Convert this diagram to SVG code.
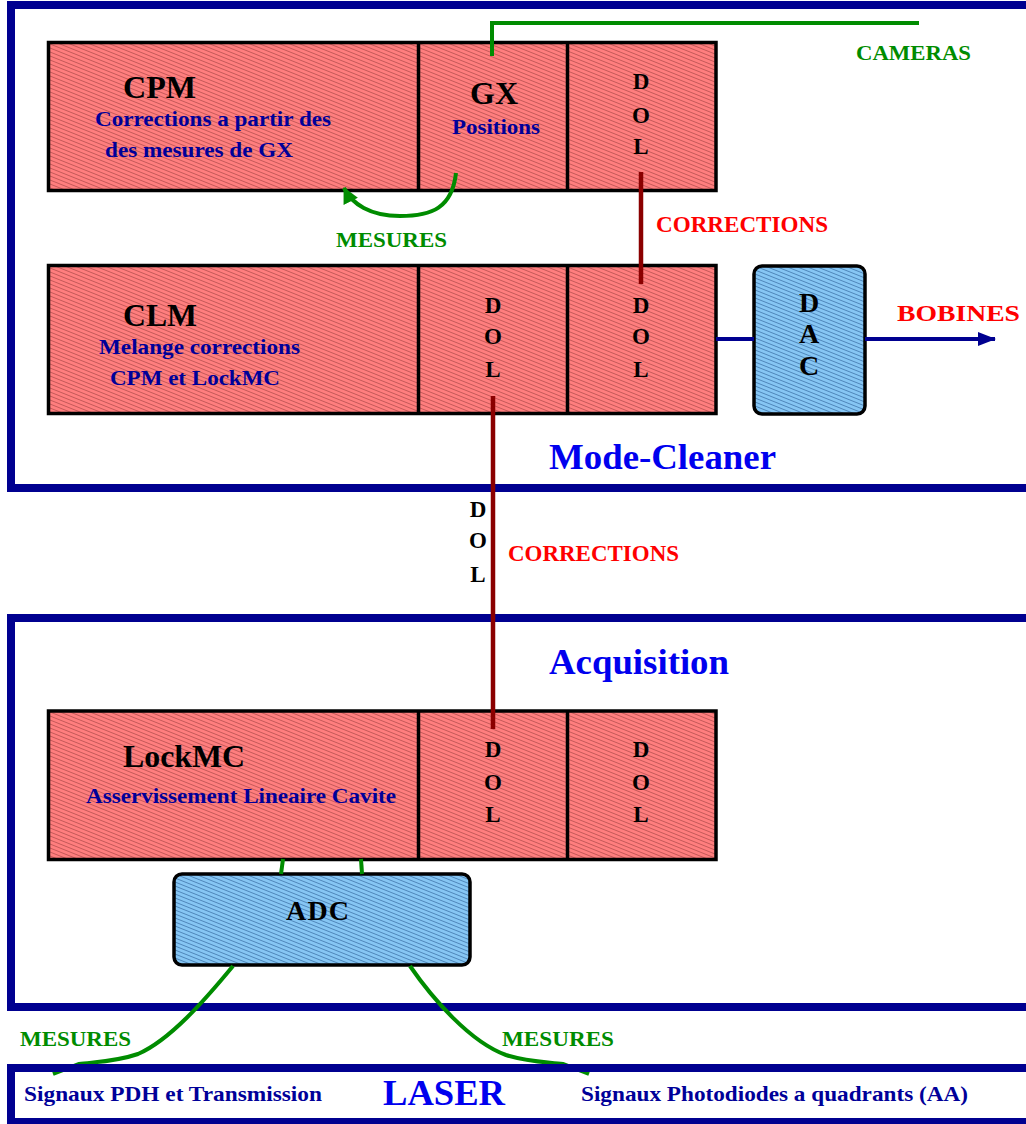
<svg xmlns="http://www.w3.org/2000/svg" width="1026" height="1124" viewBox="0 0 1026 1124">
<defs>
<pattern id="hr" patternUnits="userSpaceOnUse" width="10" height="4">
<rect width="10" height="4" fill="#FF7E7E"/>
<path d="M-5,-2 L15,6 M-5,2 L15,10 M-5,-6 L15,2" stroke="#C45858" stroke-width="1"/>
</pattern>
<pattern id="hb" patternUnits="userSpaceOnUse" width="10" height="4">
<rect width="10" height="4" fill="#86C6F4"/>
<path d="M-5,-2 L15,6 M-5,2 L15,10 M-5,-6 L15,2" stroke="#4E86BA" stroke-width="1"/>
</pattern>
<marker id="ag" markerWidth="16" markerHeight="18" refX="15" refY="8" orient="auto" markerUnits="userSpaceOnUse">
<path d="M0,0 L16,8 L0,16 Z" fill="#008C00"/>
</marker>
<marker id="an" markerWidth="18" markerHeight="14" refX="17" refY="7" orient="auto" markerUnits="userSpaceOnUse">
<path d="M0,0 L18,7 L0,14 Z" fill="#000090"/>
</marker>
</defs>
<style>
text{font-family:"Liberation Serif","Times New Roman",serif;font-weight:bold}
.frame{fill:none;stroke:#000090;stroke-width:8}
.red{fill:url(#hr);stroke:#000;stroke-width:3.5}
.blue{fill:url(#hb);stroke:#000;stroke-width:3.5}
.div{stroke:#000;stroke-width:3.5}
.t{fill:#000;font-size:32px}
.s{fill:#000099;font-size:22px}
.dol{fill:#000;font-size:23px;text-anchor:middle}
.big{font-size:28px}
.g{fill:#008C00;font-size:22px}
.r{fill:#FF0000;font-size:23px}
.h{fill:#0000EE;font-size:36px}
.ls{font-size:21px}
.gl{fill:none;stroke:#008C00;stroke-width:4}
.rl{fill:none;stroke:#8B0000;stroke-width:4.5}
.nl{fill:none;stroke:#000090;stroke-width:4}
</style>

<g id="frame-modecleaner"><rect class="frame" x="11" y="5" width="1030" height="483"/>
<text class="h" x="549" y="469" textLength="227" lengthAdjust="spacingAndGlyphs">Mode-Cleaner</text></g>
<g id="frame-acquisition"><rect class="frame" x="11" y="618" width="1030" height="389"/>
<text class="h" x="549" y="674" textLength="180" lengthAdjust="spacingAndGlyphs">Acquisition</text></g>

<g id="cpm-row">
<rect class="red" x="48.5" y="42.5" width="667.5" height="148"/>
<line class="div" x1="418.5" y1="42.5" x2="418.5" y2="190.5"/>
<line class="div" x1="567.5" y1="42.5" x2="567.5" y2="190.5"/>
</g>
<g id="cpm">
<text class="t" x="123" y="98" textLength="73" lengthAdjust="spacingAndGlyphs">CPM</text>
<text class="s" x="95" y="126" textLength="236" lengthAdjust="spacingAndGlyphs">Corrections a partir des</text>
<text class="s" x="105" y="157" textLength="188" lengthAdjust="spacingAndGlyphs">des mesures de GX</text>
</g>
<g id="gx">
<text class="t" x="494" y="104" text-anchor="middle">GX</text>
<text class="s" x="452" y="134" textLength="88" lengthAdjust="spacingAndGlyphs">Positions</text>
</g>
<g id="dol-cpm">
<text class="dol" x="641" y="89">D</text><text class="dol" x="641" y="123">O</text><text class="dol" x="641" y="154">L</text>
</g>

<g id="clm-row">
<rect class="red" x="48.5" y="265.5" width="667.5" height="148"/>
<line class="div" x1="418.5" y1="265.5" x2="418.5" y2="413.5"/>
<line class="div" x1="567.5" y1="265.5" x2="567.5" y2="413.5"/>
</g>
<g id="clm">
<text class="t" x="123" y="326" textLength="74" lengthAdjust="spacingAndGlyphs">CLM</text>
<text class="s" x="99" y="354" textLength="201" lengthAdjust="spacingAndGlyphs">Melange corrections</text>
<text class="s" x="110" y="385" textLength="170" lengthAdjust="spacingAndGlyphs">CPM et LockMC</text>
</g>
<g id="dol-clm-1">
<text class="dol" x="493" y="313">D</text><text class="dol" x="493" y="344">O</text><text class="dol" x="493" y="377">L</text>
</g>
<g id="dol-clm-2">
<text class="dol" x="641" y="313">D</text><text class="dol" x="641" y="344">O</text><text class="dol" x="641" y="377">L</text>
</g>

<g id="dac">
<rect class="blue" x="754" y="266" width="111" height="148" rx="8"/>
<text class="dol big" x="809" y="312">D</text>
<text class="dol big" x="809" y="343">A</text>
<text class="dol big" x="809" y="375">C</text>
</g>

<g id="lockmc-row">
<rect class="red" x="48.5" y="711" width="667.5" height="148.5"/>
<line class="div" x1="418.5" y1="711" x2="418.5" y2="859.5"/>
<line class="div" x1="567.5" y1="711" x2="567.5" y2="859.5"/>
</g>
<g id="lockmc">
<text class="t" x="123" y="767" textLength="122" lengthAdjust="spacingAndGlyphs">LockMC</text>
<text class="s" x="86" y="803" textLength="310" lengthAdjust="spacingAndGlyphs">Asservissement Lineaire Cavite</text>
</g>
<g id="dol-acq-1">
<text class="dol" x="493" y="757">D</text><text class="dol" x="493" y="790">O</text><text class="dol" x="493" y="822">L</text>
</g>
<g id="dol-acq-2">
<text class="dol" x="641" y="757">D</text><text class="dol" x="641" y="790">O</text><text class="dol" x="641" y="822">L</text>
</g>

<g id="adc">
<rect class="blue" x="174" y="874" width="296" height="91" rx="8"/>
<text class="dol big" x="286" y="920" style="text-anchor:start" textLength="63" lengthAdjust="spacing">ADC</text>
</g>

<g id="connectors">
<polyline class="gl" points="492,56 492,23 919,23"/>
<path class="gl" d="M456,173 C452,208 432,216 400,216 C370,216 352,204 344,188" marker-end="url(#ag)"/>
<line class="rl" x1="641" y1="172" x2="641" y2="284"/>
<line class="rl" x1="493" y1="396" x2="493" y2="729"/>
<line class="nl" x1="716" y1="339" x2="754" y2="339"/>
<line class="nl" x1="865" y1="339" x2="995" y2="339" marker-end="url(#an)"/>
<line class="gl" x1="283" y1="859" x2="281" y2="874"/>
<line class="gl" x1="361" y1="859" x2="362" y2="874"/>
<path class="gl" d="M233,966 C205,1000 170,1040 138,1054 C115,1062 92,1062 79,1064 L53,1074"/>
<path class="gl" d="M410,966 C432,998 470,1042 506,1055 C528,1062 548,1062 563,1064 L589,1074"/>
</g>

<g id="labels">
<text class="g" x="856" y="60" textLength="115" lengthAdjust="spacingAndGlyphs">CAMERAS</text>
<text class="g" x="336" y="247" textLength="111" lengthAdjust="spacingAndGlyphs">MESURES</text>
<text class="r" x="656" y="232" textLength="172" lengthAdjust="spacingAndGlyphs">CORRECTIONS</text>
<text class="r big" x="897" y="321" textLength="123" lengthAdjust="spacingAndGlyphs">BOBINES</text>
<text class="dol" x="478" y="517">D</text><text class="dol" x="478" y="548">O</text><text class="dol" x="478" y="582">L</text>
<text class="r" x="508" y="561" textLength="171" lengthAdjust="spacingAndGlyphs">CORRECTIONS</text>
<text class="g" x="20" y="1046" textLength="111" lengthAdjust="spacingAndGlyphs">MESURES</text>
<text class="g" x="502" y="1046" textLength="112" lengthAdjust="spacingAndGlyphs">MESURES</text>
</g>

<g id="laser">
<rect class="frame" x="11" y="1068" width="1030" height="54"/>
<text class="s ls" x="24" y="1101" textLength="298" lengthAdjust="spacingAndGlyphs">Signaux PDH et Transmission</text>
<text class="h" x="383" y="1105" textLength="122" lengthAdjust="spacingAndGlyphs">LASER</text>
<text class="s ls" x="581" y="1101" textLength="387" lengthAdjust="spacingAndGlyphs">Signaux Photodiodes a quadrants (AA)</text>
</g>
</svg>
